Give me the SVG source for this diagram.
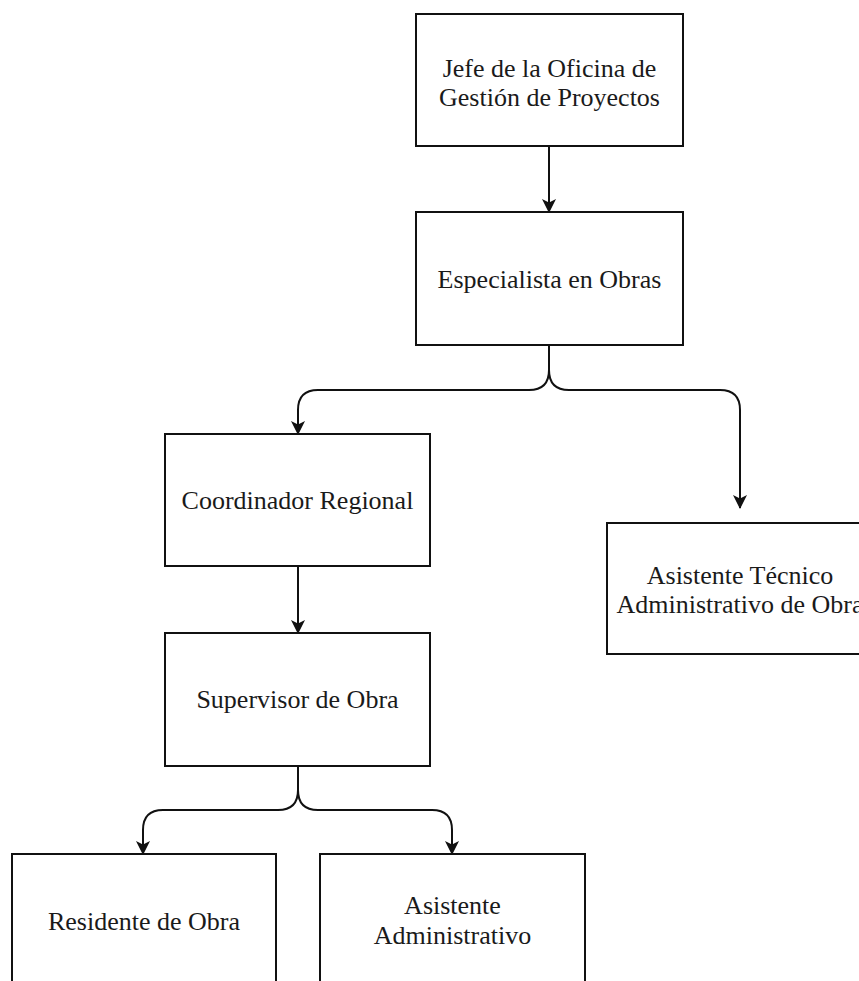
<svg xmlns="http://www.w3.org/2000/svg" width="859" height="981" viewBox="0 0 859 981">
  <style>
    .box { fill: #ffffff; stroke: #111111; stroke-width: 2; }
    .lbl { font-size: 26px; fill: #1a1a1a; text-anchor: middle; }
    .edge { fill: none; stroke: #111111; stroke-width: 2; marker-end: url(#arrow); }
  </style>
  <defs>
    <marker id="arrow" viewBox="0 0 14 14" refX="13" refY="7" markerWidth="14" markerHeight="14" markerUnits="userSpaceOnUse" orient="auto">
      <path d="M0,0 L14,7 L0,14 L3.5,7 Z" fill="#111111"/>
    </marker>
  </defs>
  <rect width="859" height="981" fill="#ffffff"/>

  <g id="connectors">
    <path class="edge" d="M549,146 L549,212"/>
    <path class="edge" d="M549,345 L549,370 Q549,390 529,390 L318,390 Q298,390 298,410 L298,434"/>
    <path class="edge" d="M549,370 Q549,390 569,390 L720,390 Q740,390 740,410 L740,508"/>
    <path class="edge" d="M298,566 L298,633"/>
    <path class="edge" d="M298,766 L298,790 Q298,810 278,810 L163,810 Q143,810 143,830 L143,854"/>
    <path class="edge" d="M298,790 Q298,810 318,810 L432,810 Q452,810 452,830 L452,854"/>
  </g>

  <g font-family="'Liberation Serif', 'Times New Roman', Times, serif">
    <g id="jefe-oficina">
      <rect class="box" x="416" y="14" width="267" height="132"/>
      <text class="lbl" x="549.5" y="77">Jefe de la Oficina de</text>
      <text class="lbl" x="549.5" y="106">Gestión de Proyectos</text>
    </g>

    <g id="especialista-obras">
      <rect class="box" x="416" y="212" width="267" height="133"/>
      <text class="lbl" x="549.5" y="288">Especialista en Obras</text>
    </g>

    <g id="coordinador-regional">
      <rect class="box" x="165" y="434" width="265" height="132"/>
      <text class="lbl" x="297.5" y="509">Coordinador Regional</text>
    </g>

    <g id="asistente-tecnico">
      <rect class="box" x="607" y="523" width="266" height="131"/>
      <text class="lbl" x="740" y="584">Asistente Técnico</text>
      <text class="lbl" x="740" y="613">Administrativo de Obra</text>
    </g>

    <g id="supervisor-obra">
      <rect class="box" x="165" y="633" width="265" height="133"/>
      <text class="lbl" x="297.5" y="708">Supervisor de Obra</text>
    </g>

    <g id="residente-obra">
      <rect class="box" x="12" y="854" width="264" height="140"/>
      <text class="lbl" x="144" y="930">Residente de Obra</text>
    </g>

    <g id="asistente-administrativo">
      <rect class="box" x="320" y="854" width="265" height="140"/>
      <text class="lbl" x="452.5" y="914">Asistente</text>
      <text class="lbl" x="452.5" y="944">Administrativo</text>
    </g>
  </g>
</svg>
